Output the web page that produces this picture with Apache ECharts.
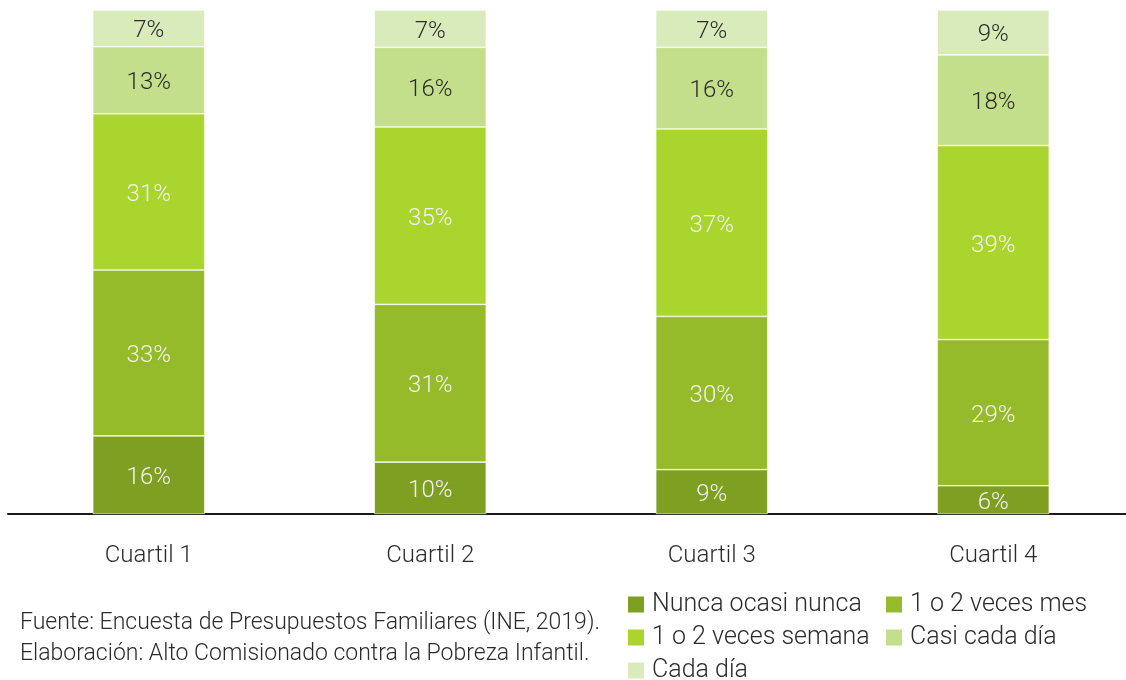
<!DOCTYPE html>
<html lang="es">
<head>
<meta charset="UTF-8">
<title>Frecuencia por cuartil</title>
<script src="https://cdn.jsdelivr.net/npm/echarts@6/dist/echarts.min.js"></script>
<style>
  *{margin:0;padding:0;}
  body{background:#fff;overflow:hidden;}
  #chart{width:1134px;height:680px;}
</style>
</head>
<body>
<div id="chart"></div>
<script type="text/javascript">
// datos (% por cuartil)
var categorias = ['Cuartil 1', 'Cuartil 2', 'Cuartil 3', 'Cuartil 4'];
var nombres = ['Nunca ocasi nunca', '1 o 2 veces mes', '1 o 2 veces semana', 'Casi cada día', 'Cada día'];
var nunca = [15.5, 10.3, 8.8, 5.6];
var vecesMes = [32.9, 31.3, 30.4, 29.0];
var vecesSemana = [31.0, 35.2, 37.2, 38.5];
var casiCadaDia = [13.3, 15.8, 16.2, 18.0];
var cadaDia = [7.3, 7.4, 7.4, 8.9];

var colores = ['#7f9f23', '#96bb2a', '#a9d52e', '#c4df8b', '#d9eabb'];
var colorEtiqueta = ['#f2f2f2', '#f2f2f2', '#f2f2f2', '#2b2b2b', '#2b2b2b'];
var valores = [nunca, vecesMes, vecesSemana, casiCadaDia, cadaDia];
var fuente = 'Roboto';

var series = [];
for (var i = 0; i < nombres.length; i++) {
    series.push({
        name: nombres[i],
        type: 'bar',
        stack: 'total',
        barWidth: 112,
        data: valores[i],
        itemStyle: { color: colores[i], borderColor: '#ffffff', borderWidth: 0.6 },
        label: {
            show: true,
            position: 'inside',
            offset: [0, 3],
            color: colorEtiqueta[i],
            fontFamily: fuente,
            fontWeight: 300,
            fontSize: 24,
            formatter: function (p) { return Math.round(p.value) + '%'; }
        }
    });
}

// una leyenda por elemento para fijar la posición de cada uno
var posLeyenda = [[626, 592], [884, 592], [626, 625], [884, 625], [626, 658]];
var leyendas = [];
for (var j = 0; j < nombres.length; j++) {
    leyendas.push({
        data: [nombres[j]],
        left: posLeyenda[j][0],
        top: posLeyenda[j][1],
        padding: 0,
        icon: 'rect',
        itemWidth: 18,
        itemHeight: 18,
        itemGap: 6,
        selectedMode: false,
        textStyle: { color: '#2b2b2b', fontSize: 25, fontFamily: fuente, fontWeight: 300, padding: [0, 0, 0, 2] }
    });
}

var myChart = echarts.init(document.getElementById('chart'));
var option = {
    animation: false,
    grid: { left: 8, right: 0, top: 10, bottom: 166 },
    legend: leyendas,
    xAxis: {
        type: 'category',
        data: categorias,
        axisLine: { lineStyle: { color: '#1a1a1a', width: 2 } },
        axisTick: { show: false },
        axisLabel: { color: '#2b2b2b', fontSize: 24, fontFamily: fuente, fontWeight: 300, margin: 30 }
    },
    yAxis: {
        type: 'value',
        min: 0,
        max: 100,
        show: false
    },
    graphic: [
        { type: 'text', left: 20, top: 612, style: { text: 'Fuente: Encuesta de Presupuestos Familiares (INE, 2019).', fontSize: 23, fontFamily: fuente, fontWeight: 300, fill: '#2b2b2b' } },
        { type: 'text', left: 20, top: 643, style: { text: 'Elaboración: Alto Comisionado contra la Pobreza Infantil.', fontSize: 23, fontFamily: fuente, fontWeight: 300, fill: '#2b2b2b' } }
    ],
    series: series
};
myChart.setOption(option);
</script>
</body>
</html>
